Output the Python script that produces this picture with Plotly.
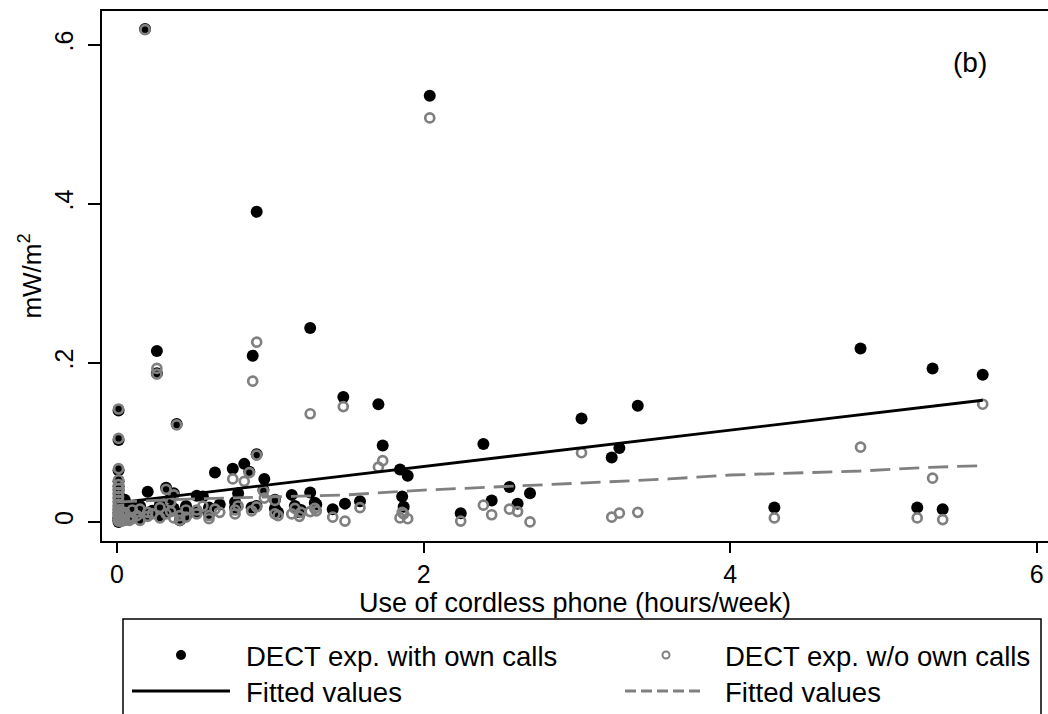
import plotly.graph_objects as go

# ---- data ----
use_hours = [
    0.01, 0.01, 0.01, 0.01, 0.01, 0.01, 0.01, 0.01, 0.01, 0.01, 0.01, 0.01, 0.01, 0.01, 0.01, 0.01, 0.01,
    0.03, 0.03, 0.03, 0.05, 0.05, 0.05, 0.08, 0.08, 0.10, 0.10, 0.13, 0.15, 0.15,
    0.183, 0.20, 0.20, 0.23, 0.26, 0.26, 0.28, 0.28, 0.32, 0.32, 0.35, 0.35, 0.37, 0.37,
    0.389, 0.41, 0.41, 0.45, 0.45, 0.52, 0.52, 0.56, 0.60, 0.60, 0.639, 0.67,
    0.755, 0.77, 0.77, 0.79, 0.83, 0.863, 0.878, 0.885, 0.911, 0.911, 0.91, 0.955, 0.961,
    1.03, 1.03, 1.05, 1.14, 1.16, 1.19, 1.20, 1.26, 1.26, 1.29, 1.30, 1.407, 1.476, 1.487,
    1.585, 1.705, 1.733, 1.846, 1.86, 1.87, 1.896, 2.04, 2.242, 2.39, 2.444, 2.56, 2.613,
    2.694, 3.03, 3.227, 3.277, 3.397, 4.288, 4.85, 5.22, 5.32, 5.386, 5.647,
]
with_calls = [
    0.140, 0.103, 0.065, 0.051, 0.045, 0.040, 0.035, 0.030, 0.025, 0.020, 0.016, 0.012, 0.009, 0.006, 0.004, 0.002, 0.000,
    0.012, 0.006, 0.002, 0.028, 0.015, 0.004, 0.010, 0.003, 0.018, 0.006, 0.012, 0.020, 0.004,
    0.620, 0.038, 0.009, 0.014, 0.215, 0.187, 0.007, 0.022, 0.043, 0.012, 0.016, 0.030, 0.036, 0.017,
    0.123, 0.002, 0.010, 0.020, 0.008, 0.033, 0.012, 0.032, 0.018, 0.010, 0.062, 0.022,
    0.067, 0.025, 0.018, 0.036, 0.073, 0.063, 0.018, 0.209, 0.390, 0.085, 0.020, 0.040, 0.054,
    0.028, 0.017, 0.012, 0.034, 0.020, 0.012, 0.015, 0.244, 0.037, 0.024, 0.022, 0.016, 0.157, 0.023,
    0.026, 0.148, 0.096, 0.066, 0.032, 0.019, 0.058, 0.536, 0.011, 0.098, 0.027, 0.044, 0.023,
    0.036, 0.130, 0.081, 0.093, 0.146, 0.018, 0.218, 0.018, 0.193, 0.016, 0.185,
]
without_calls = [
    0.142, 0.105, 0.067, 0.053, 0.047, 0.042, 0.037, 0.032, 0.027, 0.022, 0.018, 0.014, 0.011, 0.008, 0.005, 0.003, 0.001,
    0.010, 0.004, 0.001, 0.009, 0.012, 0.002, 0.006, 0.002, 0.015, 0.004, 0.008, 0.016, 0.002,
    0.619, 0.012, 0.007, 0.010, 0.193, 0.186, 0.005, 0.018, 0.041, 0.010, 0.013, 0.025, 0.034, 0.005,
    0.122, 0.002, 0.008, 0.015, 0.006, 0.015, 0.010, 0.020, 0.008, 0.004, 0.016, 0.012,
    0.054, 0.010, 0.015, 0.020, 0.051, 0.062, 0.014, 0.177, 0.226, 0.084, 0.019, 0.039, 0.030,
    0.027, 0.010, 0.008, 0.010, 0.017, 0.007, 0.012, 0.136, 0.013, 0.017, 0.014, 0.006, 0.145, 0.001,
    0.018, 0.069, 0.077, 0.005, 0.012, 0.010, 0.004, 0.508, 0.001, 0.021, 0.009, 0.016, 0.013,
    0.000, 0.087, 0.006, 0.011, 0.012, 0.005, 0.094, 0.005, 0.055, 0.003, 0.148,
]

fit_with_x = [0.0, 5.647]
fit_with_y = [0.024, 0.153]
fit_without_x = [0.0, 0.5, 1.5, 2.0, 3.0, 3.6, 4.0, 4.85, 5.3, 5.647]
fit_without_y = [0.025, 0.029, 0.034, 0.040, 0.0486, 0.054, 0.059, 0.064, 0.0687, 0.0707]

x_ticks = [0, 2, 4, 6]
x_ticklabels = ["0", "2", "4", "6"]
y_ticks = [0, 0.2, 0.4, 0.6]
y_ticklabels = ["0", ".2", ".4", ".6"]

legend_labels = ["DECT exp. with own calls", "DECT exp. w/o own calls", "Fitted values", "Fitted values"]

# ---- layout geometry ----
W, H = 1048, 714
ML, MR, MT, MB = 102, 0, 11, 173
PW, PH = W - ML - MR, H - MT - MB
GRAY = "#808080"
FONT = "Liberation Sans, Arial, sans-serif"

def px(xp):
    return (xp - ML) / PW

def py(yp):
    return (H - MB - yp) / PH

fig = go.Figure()
fig.add_trace(go.Scatter(
    x=use_hours, y=with_calls, mode="markers", name=legend_labels[0],
    marker=dict(symbol="circle", size=12, color="black", line=dict(width=0)),
))
fig.add_trace(go.Scatter(
    x=use_hours, y=without_calls, mode="markers", name=legend_labels[1],
    marker=dict(symbol="circle-open", size=9, color=GRAY, line=dict(width=2.7, color=GRAY)),
))
fig.add_trace(go.Scatter(
    x=fit_with_x, y=fit_with_y, mode="lines", name=legend_labels[2],
    line=dict(color="black", width=2.8),
))
fig.add_trace(go.Scatter(
    x=fit_without_x, y=fit_without_y, mode="lines", name=legend_labels[3],
    line=dict(color=GRAY, width=2.8, dash="20px,9px"),
))

shapes = []
annotations = []

# legend box (extends past the bottom of the page)
shapes.append(dict(type="rect", xref="paper", yref="paper",
                   x0=px(123), x1=px(1041), y0=py(740), y1=py(619),
                   line=dict(color="black", width=1.5), fillcolor="rgba(0,0,0,0)"))
# legend symbols
shapes.append(dict(type="circle", xref="paper", yref="paper", xsizemode="pixel", ysizemode="pixel",
                   xanchor=px(181), yanchor=py(655), x0=-5, x1=5, y0=-5, y1=5,
                   fillcolor="black", line=dict(width=0)))
shapes.append(dict(type="circle", xref="paper", yref="paper", xsizemode="pixel", ysizemode="pixel",
                   xanchor=px(666), yanchor=py(655), x0=-3.5, x1=3.5, y0=-3.5, y1=3.5,
                   fillcolor="white", line=dict(width=2, color=GRAY)))
shapes.append(dict(type="line", xref="paper", yref="paper",
                   x0=px(132), x1=px(230), y0=py(691), y1=py(691),
                   line=dict(color="black", width=2.8)))
shapes.append(dict(type="line", xref="paper", yref="paper",
                   x0=px(625), x1=px(703), y0=py(691), y1=py(691),
                   line=dict(color=GRAY, width=2.8, dash="11px,5px")))

for (xl, yl), lab in zip([(244, 656), (723, 656), (244, 692), (723, 692)], legend_labels):
    annotations.append(dict(text=lab, xref="paper", yref="paper", x=px(xl), y=py(yl),
                            xanchor="left", yanchor="middle", showarrow=False,
                            font=dict(family=FONT, size=27.5, color="black")))

annotations.append(dict(text="(b)", xref="paper", yref="paper", x=px(970), y=py(63),
                        xanchor="center", yanchor="middle", showarrow=False,
                        font=dict(family=FONT, size=28, color="black")))

fig.update_layout(
    width=W, height=H,
    margin=dict(l=ML, r=MR, t=MT, b=MB, pad=0),
    paper_bgcolor="white", plot_bgcolor="white",
    showlegend=False,
    font=dict(family=FONT, size=24, color="black"),
    shapes=shapes, annotations=annotations,
    xaxis=dict(
        range=[-0.098, 6.073], tickmode="array", tickvals=x_ticks, ticktext=x_ticklabels,
        ticks="outside", ticklen=10, tickwidth=1.5, tickcolor="black",
        showline=True, linecolor="black", linewidth=2, mirror=True,
        showgrid=False, zeroline=False, ticklabeloverflow="allow",
        tickfont=dict(family=FONT, size=25),
        title=dict(text="Use of cordless phone (hours/week)", font=dict(family=FONT, size=27), standoff=3),
    ),
    yaxis=dict(
        range=[-0.024, 0.6425], tickmode="array", tickvals=y_ticks, ticktext=y_ticklabels,
        ticks="outside", ticklen=12, tickwidth=1.5, tickcolor="black", tickangle=-90,
        showline=True, linecolor="black", linewidth=2, mirror=False,
        showgrid=False, zeroline=False, ticklabelstandoff=5,
        tickfont=dict(family=FONT, size=25),
        title=dict(text="mW/m<sup>2</sup>", font=dict(family=FONT, size=26), standoff=1),
    ),
)

fig.write_html("out.html", config={"displayModeBar": False},
               post_script="document.body.style.margin='0px';")
